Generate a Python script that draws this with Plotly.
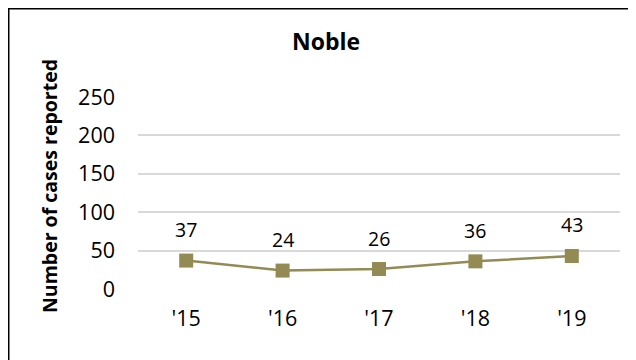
import plotly.graph_objects as go

categories = ["'15", "'16", "'17", "'18", "'19"]
cases = [37, 24, 26, 36, 43]
y_ticks = [0, 50, 100, 150, 200, 250]

# page body has an 8px margin; figure is placed at (8, 8)
OFF = 8
W, H = 636 - OFF, 360 - OFF
L, T = 138 - OFF, 97 - OFF
PW, PH = 482, 192
R, B = W - L - PW, H - T - PH

def px_x(p):
    return (p - L) / PW

def px_y(p):
    return (T + PH - p) / PH

color = "#948A54"
font = "Open Sans, Noto Sans, sans-serif"

fig = go.Figure()
fig.add_trace(go.Scatter(
    x=categories, y=cases, mode="lines+markers",
    line=dict(color=color, width=2.5),
    marker=dict(symbol="square", size=14, color=color),
    cliponaxis=False, showlegend=False,
))

annotations = [
    dict(x=c, y=v, xref="x", yref="y", text=str(v), showarrow=False,
         yshift=31, yanchor="middle", xanchor="center",
         font=dict(size=19.5, family=font, color="#000000"))
    for c, v in zip(categories, cases)
]
annotations.append(dict(
    text="<b>Number of cases reported</b>", textangle=-90,
    xref="paper", yref="paper", x=px_x(41), y=px_y(178),
    xanchor="center", yanchor="middle", showarrow=False,
    font=dict(size=19.5, family=font, color="#000000"),
))

fig.update_layout(
    width=W, height=H,
    margin=dict(l=L, r=R, t=T, b=B, autoexpand=False),
    paper_bgcolor="white", plot_bgcolor="white",
    font=dict(family=font, size=21, color="#000000"),
    title=dict(text="<b>Noble</b>", x=(326 - OFF) / W, xanchor="center",
               y=1 - (42 - OFF) / H, yanchor="middle",
               font=dict(size=23, family=font, color="#000000")),
    xaxis=dict(range=[-0.5, len(categories) - 0.5], showgrid=False,
               showline=False, zeroline=False, ticks="",
               tickfont=dict(size=21.5), ticklabelstandoff=14),
    yaxis=dict(range=[0, 250], tickvals=y_ticks, showgrid=True,
               gridcolor="#D9D9D9", gridwidth=1.5, zeroline=False,
               showline=False, ticks="", tickfont=dict(size=21.5),
               ticklabelstandoff=22),
    annotations=annotations,
    shapes=[
        dict(type="line", xref="paper", yref="paper",
             x0=px_x(0), x1=px_x(W + 5), y0=px_y(0.5), y1=px_y(0.5),
             line=dict(color="black", width=2)),
        dict(type="line", xref="paper", yref="paper",
             x0=px_x(0.5), x1=px_x(0.5), y0=px_y(0), y1=px_y(H + 5),
             line=dict(color="black", width=2)),
    ],
)

fig.write_html("out.html")
